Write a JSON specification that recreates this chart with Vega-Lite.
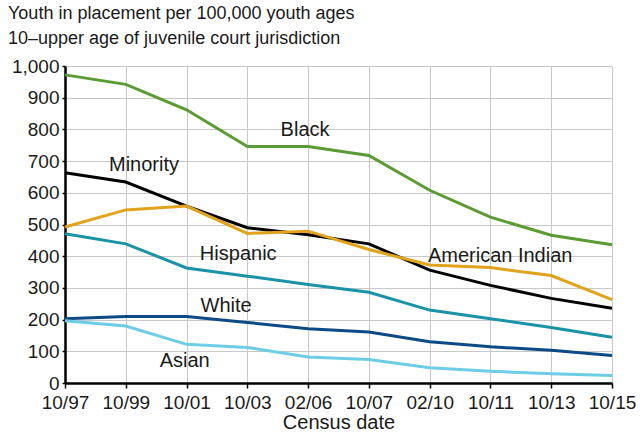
{
  "$schema": "https://vega.github.io/schema/vega-lite/v6.json",
  "autosize": {"type": "none"},
  "width": 547,
  "height": 317,
  "padding": {"left": 65, "top": 66, "right": 28, "bottom": 51},
  "background": "white",
  "title": {
    "text": ["Youth in placement per 100,000 youth ages", "10\u2013upper age of juvenile court jurisdiction"],
    "anchor": "start",
    "frame": "group",
    "dx": -57,
    "offset": -9,
    "font": "Liberation Sans",
    "fontSize": 18,
    "fontWeight": "normal",
    "color": "#1a1a1a",
    "lineHeight": 25,
    "baseline": "bottom"
  },
  "config": {
    "view": {"stroke": null},
    "font": "Liberation Sans",
    "axis": {"labelOverlap": false, "labelFlush": false}
  },
  "datasets": {
    "series": [
      {"group": "Black", "i": 0, "v": 972},
      {"group": "Black", "i": 1, "v": 942},
      {"group": "Black", "i": 2, "v": 862},
      {"group": "Black", "i": 3, "v": 746},
      {"group": "Black", "i": 4, "v": 746},
      {"group": "Black", "i": 5, "v": 718},
      {"group": "Black", "i": 6, "v": 608},
      {"group": "Black", "i": 7, "v": 523},
      {"group": "Black", "i": 8, "v": 466},
      {"group": "Black", "i": 9, "v": 436},
      {"group": "Minority", "i": 0, "v": 663},
      {"group": "Minority", "i": 1, "v": 634},
      {"group": "Minority", "i": 2, "v": 558},
      {"group": "Minority", "i": 3, "v": 490},
      {"group": "Minority", "i": 4, "v": 468},
      {"group": "Minority", "i": 5, "v": 439},
      {"group": "Minority", "i": 6, "v": 356},
      {"group": "Minority", "i": 7, "v": 308},
      {"group": "Minority", "i": 8, "v": 267},
      {"group": "Minority", "i": 9, "v": 236},
      {"group": "American Indian", "i": 0, "v": 492},
      {"group": "American Indian", "i": 1, "v": 546},
      {"group": "American Indian", "i": 2, "v": 558},
      {"group": "American Indian", "i": 3, "v": 472},
      {"group": "American Indian", "i": 4, "v": 479},
      {"group": "American Indian", "i": 5, "v": 421},
      {"group": "American Indian", "i": 6, "v": 372},
      {"group": "American Indian", "i": 7, "v": 364},
      {"group": "American Indian", "i": 8, "v": 339},
      {"group": "American Indian", "i": 9, "v": 263},
      {"group": "Hispanic", "i": 0, "v": 471},
      {"group": "Hispanic", "i": 1, "v": 439},
      {"group": "Hispanic", "i": 2, "v": 363},
      {"group": "Hispanic", "i": 3, "v": 337},
      {"group": "Hispanic", "i": 4, "v": 311},
      {"group": "Hispanic", "i": 5, "v": 286},
      {"group": "Hispanic", "i": 6, "v": 230},
      {"group": "Hispanic", "i": 7, "v": 203},
      {"group": "Hispanic", "i": 8, "v": 175},
      {"group": "Hispanic", "i": 9, "v": 144},
      {"group": "White", "i": 0, "v": 203},
      {"group": "White", "i": 1, "v": 210},
      {"group": "White", "i": 2, "v": 210},
      {"group": "White", "i": 3, "v": 191},
      {"group": "White", "i": 4, "v": 171},
      {"group": "White", "i": 5, "v": 161},
      {"group": "White", "i": 6, "v": 130},
      {"group": "White", "i": 7, "v": 114},
      {"group": "White", "i": 8, "v": 103},
      {"group": "White", "i": 9, "v": 87},
      {"group": "Asian", "i": 0, "v": 196},
      {"group": "Asian", "i": 1, "v": 180},
      {"group": "Asian", "i": 2, "v": 122},
      {"group": "Asian", "i": 3, "v": 112},
      {"group": "Asian", "i": 4, "v": 82},
      {"group": "Asian", "i": 5, "v": 74},
      {"group": "Asian", "i": 6, "v": 48},
      {"group": "Asian", "i": 7, "v": 37},
      {"group": "Asian", "i": 8, "v": 29},
      {"group": "Asian", "i": 9, "v": 24}
    ],
    "labels": [
      {"label": "Black", "i": 3.95, "v": 797},
      {"label": "Minority", "i": 1.3, "v": 687},
      {"label": "Hispanic", "i": 2.85, "v": 407},
      {"label": "American Indian", "i": 7.16, "v": 401},
      {"label": "White", "i": 2.65, "v": 244},
      {"label": "Asian", "i": 1.97, "v": 70}
    ]
  },
  "encoding": {
    "x": {
      "field": "i",
      "type": "quantitative",
      "scale": {"domain": [0, 9], "nice": false, "zero": false},
      "axis": {
        "values": [0, 1, 2, 3, 4, 5, 6, 7, 8, 9],
        "labelExpr": "['10/97','10/99','10/01','10/03','02/06','10/07','02/10','10/11','10/13','10/15'][datum.value]",
        "title": "Census date",
        "titleFont": "Liberation Sans",
        "titleFontSize": 20,
        "titleFontWeight": "normal",
        "titleColor": "#1a1a1a",
        "titlePadding": 0,
        "labelFont": "Liberation Sans",
        "labelFontSize": 19,
        "labelColor": "#1a1a1a",
        "labelPadding": 5,
        "labelFlush": false,
        "labelOverlap": false,
        "grid": true,
        "gridColor": "#c8c8c8",
        "gridWidth": 1,
        "domainColor": "#000000",
        "domainWidth": 2.5,
        "tickColor": "#000000",
        "tickSize": 5,
        "tickWidth": 1.5
      }
    },
    "y": {
      "field": "v",
      "type": "quantitative",
      "scale": {"domain": [0, 1000], "nice": false},
      "axis": {
        "values": [0, 100, 200, 300, 400, 500, 600, 700, 800, 900, 1000],
        "tickCount": 11,
        "format": ",d",
        "title": null,
        "labelFont": "Liberation Sans",
        "labelFontSize": 19,
        "labelColor": "#1a1a1a",
        "labelPadding": 3,
        "labelFlush": false,
        "labelOverlap": false,
        "grid": true,
        "gridColor": "#c8c8c8",
        "gridWidth": 1,
        "domainColor": "#000000",
        "domainWidth": 2.5,
        "tickColor": "#000000",
        "tickSize": 3,
        "tickWidth": 1.5
      }
    }
  },
  "layer": [
    {
      "data": {"name": "series"},
      "mark": {"type": "line", "strokeWidth": 3, "strokeJoin": "miter"},
      "encoding": {
        "color": {
          "field": "group",
          "type": "nominal",
          "scale": {
            "domain": ["Black", "Minority", "American Indian", "Hispanic", "White", "Asian"],
            "range": ["#5b9b34", "#000000", "#e1a31c", "#1a92a8", "#0c4a84", "#6dcde6"]
          },
          "legend": null
        }
      }
    },
    {
      "data": {"name": "labels"},
      "mark": {"type": "text", "font": "Liberation Sans", "fontSize": 20, "color": "#1a1a1a", "align": "center", "baseline": "middle"},
      "encoding": {
        "text": {"field": "label"}
      }
    }
  ]
}
